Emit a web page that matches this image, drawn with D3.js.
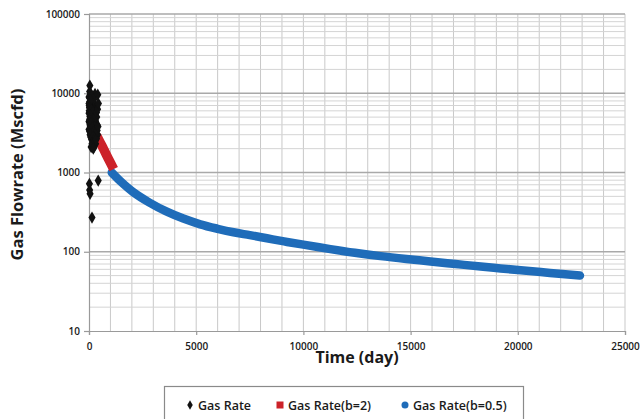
<!DOCTYPE html>
<html>
<head>
<meta charset="utf-8">
<script src="https://cdn.jsdelivr.net/npm/d3@7"></script>
<style>
  body { margin: 0; background: #fff; }
  svg { display: block; font-family: "Open Sans", sans-serif; }
</style>
</head>
<body>
<svg width="642" height="419"></svg>
<script>
// ---- data ----
var gasRate = [
  [40, 12500], [280, 9800], [60, 9200], [20, 8800], [100, 8500], [150, 8000],
  [30, 7800], [200, 7500], [80, 7200], [250, 7000], [120, 6800], [330, 6700],
  [50, 6500], [170, 6300], [220, 6100], [10, 6000], [300, 5900], [90, 5700],
  [140, 5500], [270, 5400], [190, 5200], [40, 5100], [360, 5000], [110, 4900],
  [230, 4700], [70, 4600], [160, 4500], [310, 4400], [20, 4300], [260, 4200],
  [130, 4100], [380, 4000], [200, 3900], [60, 3800], [340, 3700], [100, 3600],
  [240, 3500], [170, 3400], [30, 3300], [290, 3200], [150, 3100], [400, 3000],
  [210, 2900], [80, 2800], [350, 2700], [120, 2600], [260, 2500], [190, 2400],
  [310, 2300], [230, 2100], [60, 9600], [180, 8700], [10, 7000], [120, 5900],
  [40, 4000], [90, 3000], [0, 9000], [0, 7400], [0, 5600], [0, 4400], [0, 3500],
  [30, 10500], [130, 9300], [230, 8400], [70, 8100], [20, 6600], [110, 6200],
  [180, 5800], [60, 5300], [250, 5000], [30, 4700], [190, 4300], [90, 4200],
  [290, 3900], [150, 3700], [220, 3300], [50, 3000], [180, 2800], [280, 2700],
  [140, 2300], [330, 2600], [380, 3400], [420, 3800], [310, 5100], [350, 5700],
  [400, 6300], [410, 9600], [440, 7400], [100, 2100], [200, 2000],
  [430, 790], [20, 720], [30, 600], [50, 540], [140, 270]
];
var rateB2 = [[350, 2950], [500, 2450], [670, 2000], [900, 1500], [1150, 1100]];
var rateB05 = [
  [1060, 1000], [1500, 760], [2070, 563], [2800, 420], [3630, 320], [4400, 262],
  [5190, 222], [6000, 195], [6740, 176], [7500, 162], [8300, 148], [9100, 135],
  [10000, 123], [11260, 108], [12400, 97], [13600, 88], [14800, 81], [15930, 75.5],
  [17100, 70], [18270, 65], [19200, 61.5], [20140, 58.5], [21500, 54], [22900, 50]
];
var xTicks = [0, 5000, 10000, 15000, 20000, 25000];
var yTicks = [10, 100, 1000, 10000, 100000];
var legendItems = ["Gas Rate", "Gas Rate(b=2)", "Gas Rate(b=0.5)"];

var svg = d3.select("svg");
var x = d3.scaleLinear().domain([0, 25000]).range([89, 625]);
var y = d3.scaleLog().domain([10, 100000]).range([331, 14]);

var black = "#111", red = "#cc2229", blue = "#1f6cb9";

// ---- grid ----
var grid = svg.append("g");
d3.range(1000, 25001, 1000).forEach(function(t) {
  grid.append("line")
    .attr("x1", x(t)).attr("x2", x(t)).attr("y1", y(100000)).attr("y2", y(10))
    .attr("stroke", "#c9c9c9").attr("stroke-width", 1);
});
var minor = [];
[10, 100, 1000, 10000].forEach(function(d) {
  for (var k = 2; k <= 9; k++) minor.push(d * k);
});
minor.forEach(function(v) {
  grid.append("line")
    .attr("x1", x(0)).attr("x2", x(25000)).attr("y1", y(v)).attr("y2", y(v))
    .attr("stroke", "#d4d4d4").attr("stroke-width", 1);
});
[100, 1000, 10000, 100000].forEach(function(v) {
  grid.append("line")
    .attr("x1", x(0)).attr("x2", x(25000)).attr("y1", y(v)).attr("y2", y(v))
    .attr("stroke", "#a9a9a9").attr("stroke-width", 1.5);
});

// ---- axes ----
var xAxis = svg.append("g")
  .attr("transform", "translate(0," + y(10) + ")")
  .call(d3.axisBottom(x).tickValues(xTicks).tickSize(4).tickPadding(8).tickFormat(d3.format("d")));
var yAxis = svg.append("g")
  .attr("transform", "translate(" + x(0) + ",0)")
  .call(d3.axisLeft(y).tickValues(yTicks).tickSize(5).tickPadding(4).tickFormat(d3.format("d")));
[xAxis, yAxis].forEach(function(a) {
  a.selectAll("path, line").attr("stroke", "#9a9a9a").attr("stroke-width", 1.2);
  a.selectAll("text").attr("fill", "#1a1a1a").style("font-size", "10px")
    .style("font-weight", "600").style("font-family", "'Open Sans', sans-serif");
});

// ---- series ----
var line = d3.line()
  .x(function(d) { return x(d[0]); })
  .y(function(d) { return y(d[1]); })
  .curve(d3.curveCatmullRom);

svg.append("path").datum(rateB05).attr("d", line)
  .attr("fill", "none").attr("stroke", blue).attr("stroke-width", 8.5)
  .attr("stroke-linecap", "round");

svg.append("path").datum(rateB2).attr("d", line)
  .attr("fill", "none").attr("stroke", red).attr("stroke-width", 9.5)
  .attr("stroke-linecap", "butt");

var diamond = d3.symbol().type(d3.symbolDiamond).size(44);
svg.selectAll(".gr").data(gasRate).enter().append("path")
  .attr("d", diamond)
  .attr("transform", function(d) { return "translate(" + x(d[0]) + "," + y(d[1]) + ")"; })
  .attr("fill", black);

// ---- titles ----
svg.append("text")
  .attr("transform", "translate(23," + ((y(100000) + y(10)) / 2 + 2) + ") rotate(-90)")
  .attr("text-anchor", "middle")
  .style("font-size", "16.5px").style("font-weight", "bold").attr("fill", "#1a1a1a")
  .text("Gas Flowrate (Mscfd)");
svg.append("text")
  .attr("x", 357).attr("y", 363).attr("text-anchor", "middle")
  .style("font-size", "16px").style("font-weight", "bold").attr("fill", "#1a1a1a")
  .text("Time (day)");

// ---- legend ----
var lg = svg.append("g");
lg.append("rect").attr("x", 164.5).attr("y", 386.5).attr("width", 359).attr("height", 50)
  .attr("fill", "#fff").attr("stroke", "#8a8a8a").attr("stroke-width", 1.2);
var lx = [190, 280, 405];
legendItems.forEach(function(name, i) {
  var cx = lx[i], cy = 405;
  if (i === 0) {
    lg.append("path").attr("d", d3.symbol().type(d3.symbolDiamond).size(26))
      .attr("transform", "translate(" + cx + "," + cy + ")").attr("fill", black);
  } else if (i === 1) {
    lg.append("rect").attr("x", cx - 3.5).attr("y", cy - 3.5).attr("width", 7).attr("height", 7)
      .attr("fill", red);
  } else {
    lg.append("circle").attr("cx", cx).attr("cy", cy).attr("r", 3.5).attr("fill", blue);
  }
  lg.append("text").attr("x", cx + 8).attr("y", cy + 4.5)
    .style("font-size", "12.5px").style("font-weight", "600").attr("fill", "#1a1a1a")
    .text(name);
});
</script>
</body>
</html>
